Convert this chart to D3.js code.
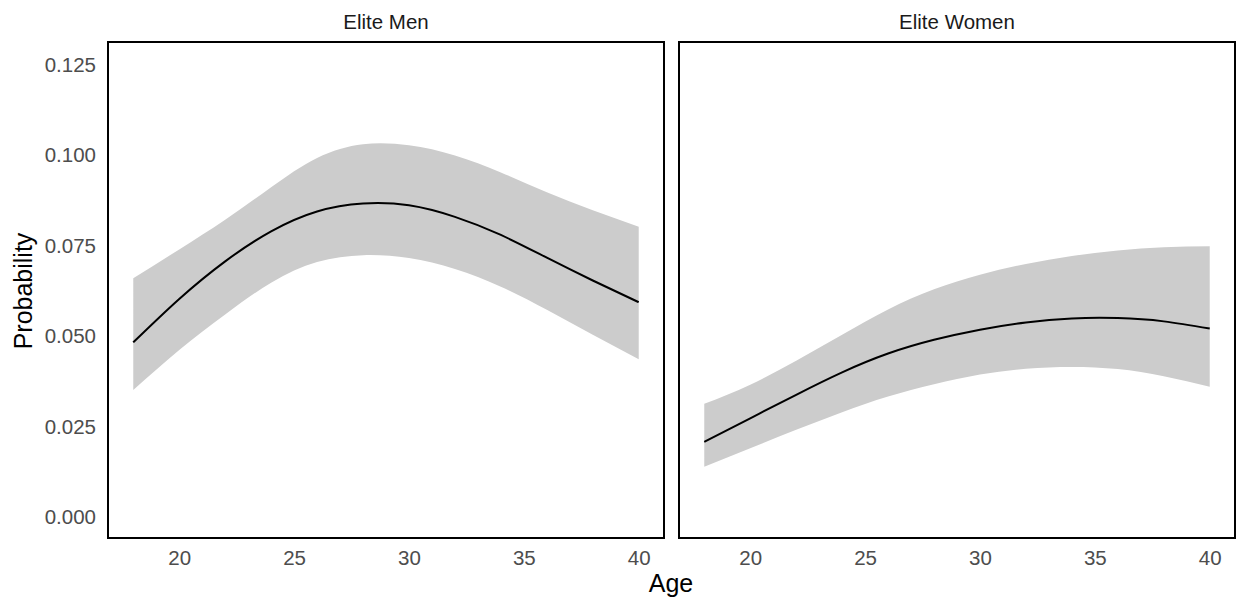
<!DOCTYPE html>
<html>
<head>
  <meta charset="utf-8">
  <title>Elite probability by age</title>
  <style>
    body { margin: 0; background: #fff; }
    text { font-family: Arial, "Liberation Sans", sans-serif; }
  </style>
</head>
<body>
<script src="https://d3js.org/d3.v7.min.js"></script>
<script>
  var width = 1237;
  var height = 605;

  // data
  var ages = [18, 20, 22, 24, 26, 28, 30, 32, 34, 36, 38, 40];
  var panels = ['Elite Men', 'Elite Women'];

  var menFit   = [0.0483, 0.0603, 0.0707, 0.0790, 0.0845, 0.0867, 0.0862, 0.0830, 0.0780, 0.0717, 0.0654, 0.0594];
  var menUpper = [0.0660, 0.0740, 0.0822, 0.0912, 0.0993, 0.1031, 0.1028, 0.1000, 0.0953, 0.0898, 0.0848, 0.0803];
  var menLower = [0.0351, 0.0462, 0.0560, 0.0648, 0.0705, 0.0724, 0.0716, 0.0686, 0.0637, 0.0573, 0.0504, 0.0436];

  var womenFit   = [0.0208, 0.0273, 0.0338, 0.0400, 0.0452, 0.0490, 0.0518, 0.0538, 0.0549, 0.0550, 0.0541, 0.0521];
  var womenUpper = [0.0313, 0.0366, 0.0432, 0.0504, 0.0574, 0.0630, 0.0670, 0.0700, 0.0722, 0.0737, 0.0746, 0.0749];
  var womenLower = [0.0139, 0.0190, 0.0241, 0.0290, 0.0333, 0.0367, 0.0394, 0.0410, 0.0415, 0.0409, 0.0389, 0.0360];

  var xTicks = [20, 25, 30, 35, 40];
  var yTicks = [0, 0.025, 0.05, 0.075, 0.1, 0.125];

  var series = [
    { fit: menFit, upper: menUpper, lower: menLower },
    { fit: womenFit, upper: womenUpper, lower: womenLower }
  ];

  var panelLeft = [108, 679];
  var panelW = 556;
  var panelTop = 42;
  var panelBottom = 538;

  var svg = d3.select('body')
    .append('svg')
      .attr('width', width)
      .attr('height', height);

  var y = d3.scaleLinear()
    .domain([0, 0.125])
    .range([517, 65]);

  panels.forEach(function(name, i) {
    var x = d3.scaleLinear()
      .domain([16.9, 41.1])
      .range([panelLeft[i], panelLeft[i] + panelW]);

    var rows = ages.map(function(a, j) {
      return { age: a, fit: series[i].fit[j], upper: series[i].upper[j], lower: series[i].lower[j] };
    });

    var area = d3.area()
      .curve(d3.curveNatural)
      .x(function(d) { return x(d.age); })
      .y0(function(d) { return y(d.lower); })
      .y1(function(d) { return y(d.upper); });

    var line = d3.line()
      .curve(d3.curveNatural)
      .x(function(d) { return x(d.age); })
      .y(function(d) { return y(d.fit); });

    svg.append('path')
      .datum(rows)
      .attr('d', area)
      .attr('fill', '#cccccc');

    svg.append('path')
      .datum(rows)
      .attr('d', line)
      .attr('fill', 'none')
      .attr('stroke', '#000')
      .attr('stroke-width', 2);

    // panel border
    svg.append('rect')
      .attr('x', panelLeft[i])
      .attr('y', panelTop)
      .attr('width', panelW)
      .attr('height', panelBottom - panelTop)
      .attr('fill', 'none')
      .attr('stroke', '#000')
      .attr('stroke-width', 2);

    // strip label
    svg.append('text')
      .attr('x', panelLeft[i] + panelW / 2)
      .attr('y', 29)
      .attr('text-anchor', 'middle')
      .attr('font-size', 20.5)
      .attr('fill', '#1a1a1a')
      .text(name);

    // x axis
    var xAxis = svg.append('g')
      .attr('transform', 'translate(0,' + panelBottom + ')')
      .call(d3.axisBottom(x).tickValues(xTicks).tickSize(0).tickPadding(12));
    xAxis.select('.domain').remove();
    xAxis.selectAll('text')
      .attr('font-size', 20.5)
      .attr('font-family', 'Arial, "Liberation Sans", sans-serif')
      .attr('fill', '#4d4d4d');
  });

  // y axis (left panel only)
  var yAxis = svg.append('g')
    .attr('transform', 'translate(' + panelLeft[0] + ',0)')
    .call(d3.axisLeft(y).tickValues(yTicks).tickFormat(d3.format('.3f')).tickSize(0).tickPadding(12));
  yAxis.select('.domain').remove();
  yAxis.selectAll('text')
    .attr('font-size', 20.5)
    .attr('font-family', 'Arial, "Liberation Sans", sans-serif')
    .attr('fill', '#4d4d4d');

  // axis titles
  svg.append('text')
    .attr('x', 671)
    .attr('y', 592)
    .attr('text-anchor', 'middle')
    .attr('font-size', 25)
    .attr('fill', '#000')
    .text('Age');

  svg.append('text')
    .attr('transform', 'translate(32,291) rotate(-90)')
    .attr('text-anchor', 'middle')
    .attr('font-size', 25)
    .attr('fill', '#000')
    .text('Probability');
</script>
</body>
</html>
